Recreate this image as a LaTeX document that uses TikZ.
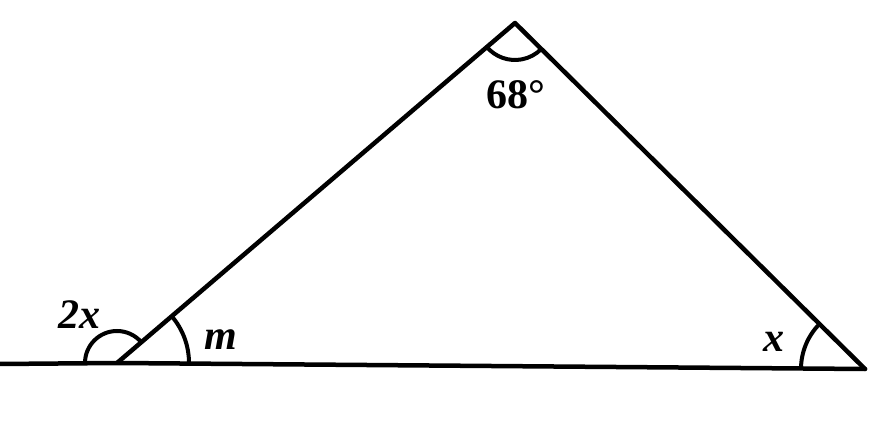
\documentclass[tikz,border=0pt]{standalone}
\usepackage{fontspec}
\setmainfont{Liberation Serif}
\begin{document}
\begin{tikzpicture}[x=1pt,y=1pt,
  edge/.style={line width=4.5pt,line cap=round,line join=round},
  anglemark/.style={line width=4pt},
  lbl/.style={font=\fontsize{42}{42}\selectfont\bfseries\itshape,inner sep=0pt}]
\useasboundingbox[fill=white] (0,0) rectangle (887,428);
\coordinate (L) at (0,64);
\coordinate (A) at (117,65);
\coordinate (B) at (515,405);
\coordinate (C) at (865,59);
\draw[edge] (L) -- (A) -- (C);
\draw[edge] (A) -- (B) -- (C);
% angle marks
\draw[anglemark] ([shift={(180:32)}]A) arc (180:40.5:32);
\draw[anglemark] ([shift={(0:72)}]A) arc (0:40.5:72);
\draw[anglemark] ([shift={(220.5:37)}]B) arc (220.5:315.3:37);
\draw[anglemark] ([shift={(180:64)}]C) arc (180:135.3:64);
% labels
\node[lbl] (t2x) at (79,113) {2x};
\node[lbl] (tm) at (221,88) {m};
\node[lbl] (tx) at (774,86) {x};
\node[lbl,font=\fontsize{42}{42}\selectfont\bfseries] (t68) at (516,333) {68°};
\end{tikzpicture}
\end{document}
